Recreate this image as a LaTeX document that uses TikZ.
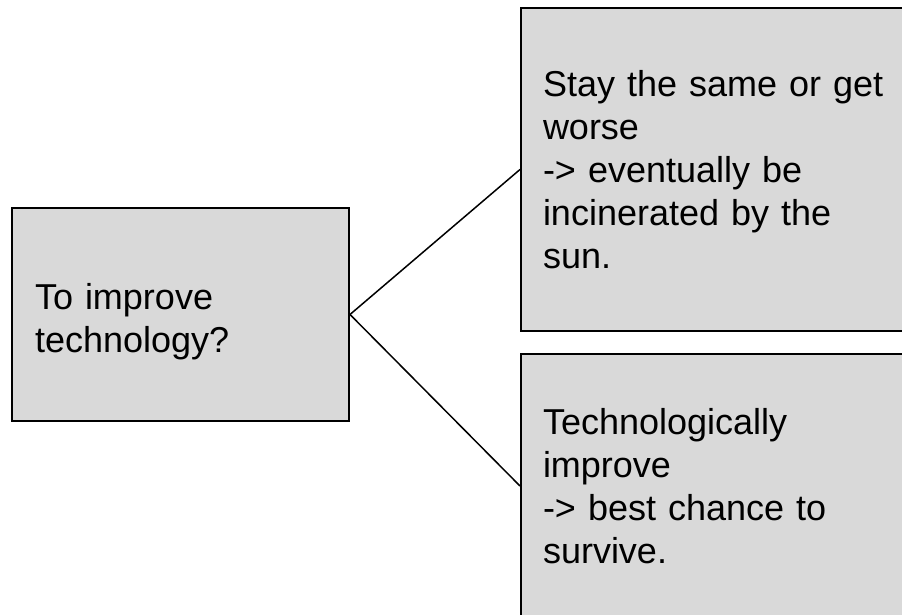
\documentclass[tikz,border=0pt]{standalone}
\usepackage{fontspec}
\setmainfont{Liberation Sans}
\usetikzlibrary{positioning}
\definecolor{boxgray}{RGB}{217,217,217}
\tikzset{
  box/.style={draw=black,fill=boxgray,line width=1pt,align=left,inner xsep=11pt,inner ysep=0pt},
  link/.style={draw=black,line width=0.75pt}
}
\tikzstyle{every node}=[font=\fontsize{18}{21.5}\selectfont]

\begin{document}
\begin{tikzpicture}[x=0.5pt,y=-0.5pt]
    \useasboundingbox (0,0) rectangle (902,615);
    \clip (0,0) rectangle (902,615);
    \node[box,inner xsep=11.5pt,minimum width=168.5pt,minimum height=106.5pt,text width=145.5pt,text depth=18.3pt] (q) at (180.5,314.5) {To improve\\technology?};
    \node[box,minimum width=209.5pt,minimum height=161.5pt,text width=187.5pt] (stay) at (730.5,169.5) {Stay the same or get\\worse\\-> eventually be\\incinerated by the\\sun.};
    \node[box,minimum width=209.5pt,minimum height=132pt,text width=187.5pt] (improve) at (730.5,486) {Technologically\\improve\\-> best chance to\\survive.};
    \draw [link] (q.east) -- (stay.west);
    \draw [link] (q.east) -- (improve.west);
\end{tikzpicture}
\end{document}
